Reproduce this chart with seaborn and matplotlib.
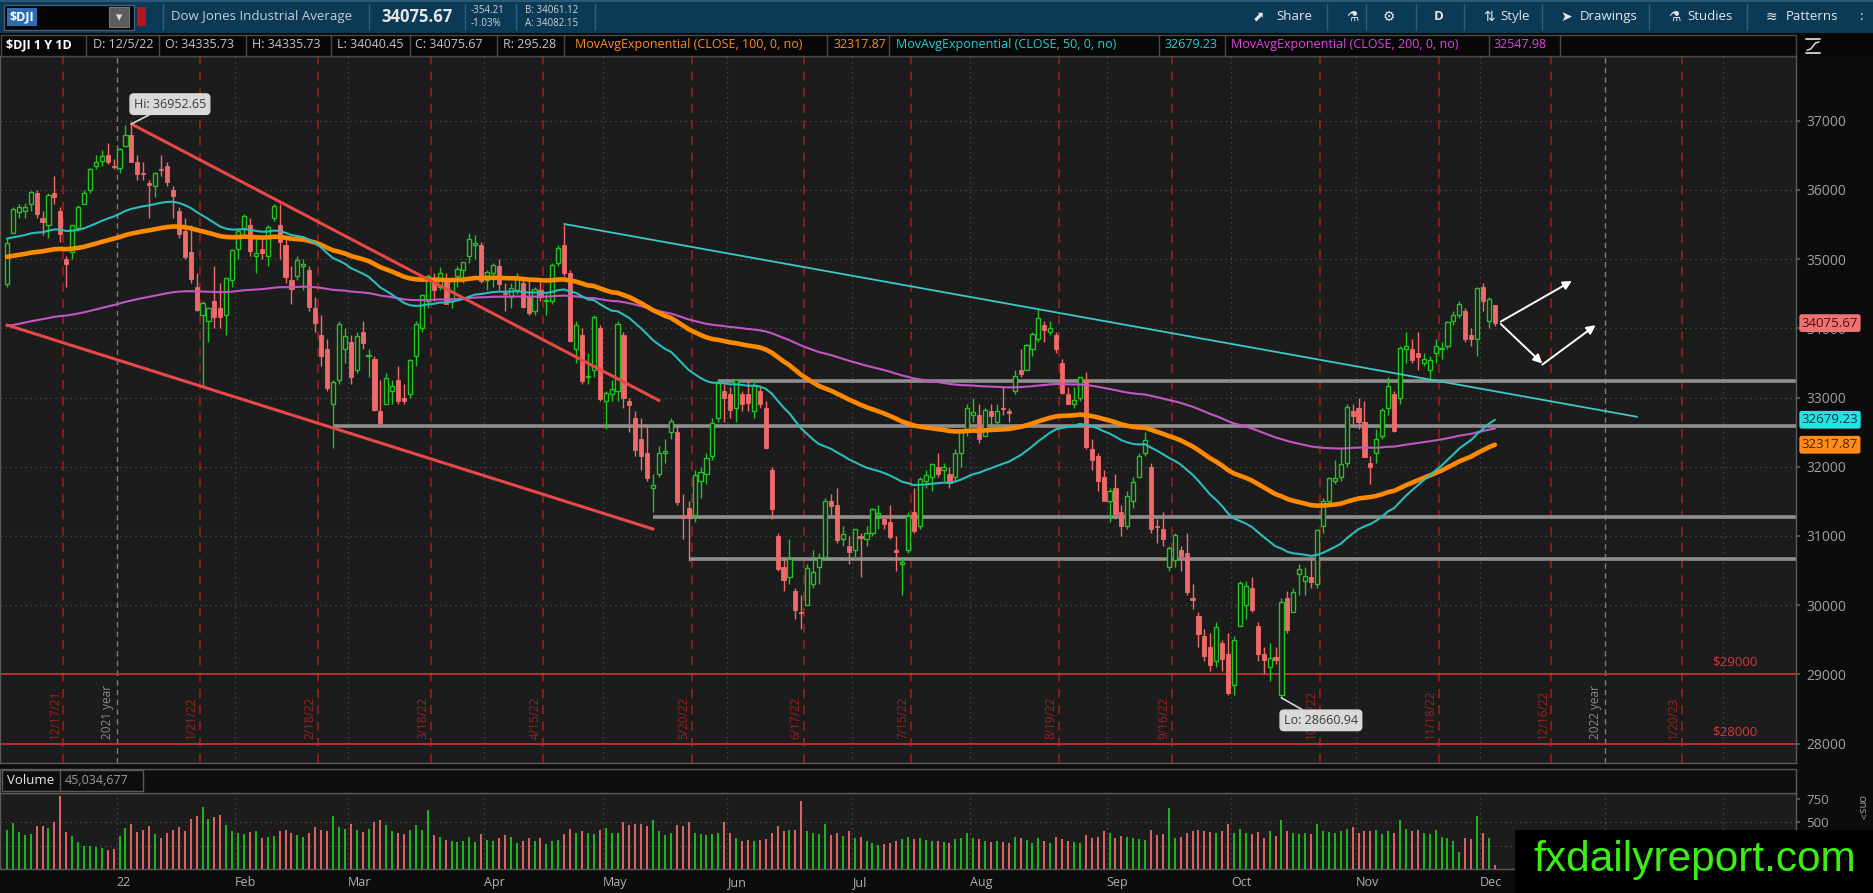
import numpy as np
import pandas as pd
import seaborn as sns
import matplotlib
matplotlib.use('Agg')
import matplotlib.pyplot as plt
from matplotlib.patches import Rectangle

# ---------------- data: $DJI daily, 12/6/21 .. 12/5/22 ----------------
opens = [
    34640, 35380, 35680, 35700, 35800, 35950, 35600, 35500, 35950, 35700, 35000, 35100, 35450, 35800, 36000, 36350, 36420, 36500, 36350,
    36320, 36640, 36800, 36400, 36250, 36100, 36050, 36300, 36350, 36000, 35700, 35400, 35100, 34600, 34200, 34100, 34400, 34300, 34200, 34700,
    35150, 35450, 35500, 35050, 35150, 35050, 35600, 35500, 35200, 34700, 34750, 34900, 34850, 34300, 33900, 33700, 32900, 33250, 33700,
    33800, 33400, 33950, 33600, 33550, 32800, 32900, 33100, 33250, 33000, 33050, 33600, 34000, 34400, 34700, 34600, 34700, 34400, 34750, 34850, 35050, 35200, 35200,
    34700, 34800, 34900, 34500, 34450, 34550, 34650, 34450, 34250, 34550, 34400, 34400, 34950, 35200, 34800, 33700, 33900, 33300, 33400, 34000,
    32950, 33050, 33100, 33900, 32950, 32700, 32400, 32200, 31700, 31900, 32200, 32500, 32500, 31300, 31400, 31300, 31800, 31900, 32150, 32700, 33100,
    33050, 32850, 33050, 33050, 32800, 33100, 32850, 31950, 31000, 30550, 30400, 30200, 29900, 30000, 30300, 30550, 30700, 31500, 31450, 30950, 30850,
    30800, 31000, 30950, 31050, 31300, 31250, 31200, 30800, 30600, 30800, 31350, 31150, 31800, 31850, 32000, 31950, 31900, 31850, 32200, 32550,
    32750, 32750, 32450, 32800, 32650, 32850, 32800, 33100, 33400, 33400, 33700, 33850, 34050, 33950, 33900, 33500, 33050, 32900, 33000, 33250, 32250, 32150, 31850,
    31500, 31700, 31350, 31150, 31500, 31850, 32200, 32000, 31150, 31100, 30550, 30650, 30800, 30750, 30100, 29850, 29550, 29400, 29200, 29450, 29300,
    28850, 29700, 30000, 30250, 29700, 29300, 29100, 29250, 28700, 30100, 29900, 30450, 30350, 30400, 30300, 31150, 31500, 31800, 31850, 32050, 32800,
    32850, 32650, 32050, 32200, 32450, 32850, 33050, 33000, 33700, 33700, 33650, 33500, 33400, 33650, 33700, 33750, 34100, 34200, 34250, 33900, 33850,
    34600, 34100, 34336,
]
highs = [
    35300, 35760, 35800, 35810, 35990, 36000, 35700, 35950, 36200, 35750, 35050, 35500, 35780, 36000, 36320, 36500, 36570, 36680, 36450,
    36600, 36935, 36953, 36500, 36400, 36150, 36260, 36500, 36400, 36050, 35750, 35600, 35500, 34800, 34400, 34300, 34900, 34650, 34730, 35150,
    35450, 35650, 35600, 35300, 35300, 35500, 35800, 35800, 35300, 34900, 35050, 35000, 34900, 34450, 34200, 33850, 33250, 34100, 34000,
    33900, 33950, 34100, 33700, 33600, 33250, 33350, 33250, 33450, 33200, 33550, 34100, 34500, 34780, 34800, 34880, 34800, 34720, 34900, 34960, 35372, 35350, 35250,
    34850, 34950, 35000, 34650, 34650, 34800, 34700, 34700, 34600, 34700, 34500, 34950, 35200, 35500, 34850, 34100, 34000, 33650, 34200, 34050,
    33100, 33250, 34100, 33950, 33000, 32800, 32700, 32600, 31900, 32300, 32400, 32700, 32600, 31600, 31500, 31950, 32000, 32200, 32700, 33250, 33200,
    33150, 33250, 33100, 33250, 33250, 33150, 32950, 32000, 31050, 30700, 30950, 30250, 30150, 30600, 30800, 30750, 31550, 31600, 31700, 31150, 31000,
    31100, 31050, 31150, 31400, 31450, 31300, 31450, 31000, 30700, 31350, 31700, 31850, 31950, 32050, 32200, 32050, 32000, 32250, 32550, 32900,
    33000, 32900, 32850, 32900, 32900, 33150, 32850, 33400, 33700, 33780, 33950, 34281, 34100, 34100, 33950, 33550, 33150, 33150, 33300, 33370, 32400, 32200, 31950,
    31700, 31900, 31450, 31650, 31850, 32200, 32500, 32050, 31250, 31350, 30850, 31050, 30850, 31050, 30300, 29900, 29650, 29600, 29750, 29500, 29600,
    29550, 30350, 30350, 30400, 29750, 29400, 29450, 29400, 30100, 30200, 30250, 30600, 30550, 30700, 31100, 31550, 31850, 32100, 32250, 32900, 32900,
    33000, 32950, 32150, 32550, 32850, 33300, 33100, 33750, 33950, 33850, 33950, 33650, 33600, 33850, 33800, 34100, 34250, 34400, 34300, 34000, 34600,
    34650, 34450, 34336,
]
lows = [
    34600, 35380, 35600, 35600, 35700, 35600, 35350, 35300, 35800, 35250, 34600, 35000, 35400, 35800, 35950, 36300, 36350, 36380, 36300,
    36250, 36640, 36400, 36150, 36150, 35600, 35900, 36200, 36050, 35600, 35300, 35000, 34650, 34250, 33150, 33800, 34000, 34000, 33900, 34600,
    35000, 35350, 35050, 34800, 35000, 34900, 35550, 35000, 34650, 34350, 34700, 34550, 34250, 33950, 33450, 33100, 32272, 33200, 33500,
    33200, 33350, 33700, 33300, 32800, 32600, 32900, 32900, 32900, 32900, 33000, 33450, 33950, 34300, 34400, 34550, 34350, 34300, 34600, 34650, 34950, 35000, 34650,
    34550, 34600, 34550, 34250, 34300, 34500, 34300, 34200, 34200, 34400, 34200, 34350, 34900, 34750, 33800, 33500, 33200, 33200, 33300, 32950,
    32550, 32950, 32950, 32850, 32500, 32150, 31950, 31800, 31350, 31850, 32050, 32400, 31450, 30950, 30635, 31200, 31550, 31750, 32100, 32650, 32650,
    32700, 32650, 32800, 32800, 32700, 32850, 32250, 31250, 30500, 30200, 30300, 29800, 29650, 30000, 30250, 30300, 30700, 31300, 30900, 30850, 30600,
    30650, 30400, 30850, 31000, 31100, 31100, 30950, 30500, 30143, 30750, 31050, 31100, 31700, 31650, 31850, 31800, 31700, 31800, 32000, 32450,
    32650, 32350, 32450, 32600, 32550, 32750, 32650, 33050, 33300, 33400, 33600, 33800, 33800, 33900, 33650, 33050, 32900, 32850, 32950, 32250, 31950, 31650, 31500,
    31200, 31250, 31000, 31100, 31400, 31850, 32150, 31050, 30900, 30850, 30500, 30550, 30500, 30150, 29950, 29400, 29200, 29050, 29100, 29050, 28700,
    28700, 29700, 29800, 29900, 29200, 29000, 28900, 29150, 28661, 29600, 29900, 30150, 30150, 30250, 30250, 31050, 31450, 31750, 31800, 32000, 32600,
    32550, 32150, 31750, 32050, 32400, 32750, 32500, 32900, 33500, 33500, 33400, 33450, 33250, 33500, 33550, 33700, 34050, 34150, 33800, 33750, 33600,
    34250, 34000, 34040,
]
closes = [
    35227, 35719, 35754, 35754, 35971, 35650, 35544, 35927, 35898, 35365, 34932, 35493, 35754, 35950, 36302, 36398, 36488, 36398, 36338,
    36585, 36800, 36408, 36236, 36231, 36068, 36252, 36290, 36113, 35912, 35368, 35029, 34715, 34265, 34364, 34297, 34168, 34160, 34725, 35131,
    35405, 35629, 35111, 35089, 35091, 35463, 35768, 35241, 34738, 34566, 34988, 34934, 34312, 34079, 33596, 33131, 33223, 34058, 33892,
    33294, 33891, 33794, 33614, 32817, 32632, 33286, 33174, 32944, 32945, 33544, 34063, 34481, 34755, 34552, 34807, 34358, 34707, 34861, 34955, 35294, 35228, 34678,
    34818, 34921, 34641, 34496, 34583, 34721, 34308, 34220, 34564, 34451, 34411, 34911, 35161, 34793, 33811, 34049, 33240, 33302, 34160, 32977,
    33062, 33129, 34061, 32998, 32899, 32246, 32160, 31834, 31730, 32197, 32223, 32655, 31490, 31253, 31262, 31880, 31929, 32120, 32637, 33213, 32990,
    32813, 33248, 32900, 32916, 33180, 32910, 32272, 31393, 30517, 30365, 30669, 29927, 29889, 30530, 30483, 30677, 31501, 31439, 30947, 31029, 30775,
    31097, 30968, 31038, 31385, 31338, 31174, 30982, 30773, 30631, 31289, 31073, 31827, 31875, 32037, 31900, 31990, 31762, 32198, 32530, 32845,
    32798, 32397, 32813, 32727, 32803, 32833, 32775, 33310, 33337, 33761, 33913, 34152, 33981, 33999, 33707, 33064, 32910, 32970, 33292, 32283, 32099, 31791, 31510,
    31656, 31318, 31145, 31581, 31775, 32152, 32381, 31105, 31135, 30962, 30822, 31020, 30706, 30184, 30077, 29590, 29261, 29135, 29684, 29226, 28726,
    29491, 30317, 30274, 29927, 29297, 29203, 29240, 29211, 30039, 29635, 30186, 30524, 30424, 30334, 31083, 31500, 31837, 31839, 32034, 32862, 32733,
    32653, 32148, 32001, 32403, 32827, 33161, 32514, 33716, 33748, 33537, 33593, 33554, 33547, 33746, 33700, 34098, 34195, 34347, 33850, 33853, 34590,
    34395, 34430, 34076,
]
volumes = [  # millions
    418, 489, 393, 364, 371, 453, 453, 436, 496, 775, 393, 357, 293, 250, 250, 240, 228, 204, 214,
    357, 436, 478, 393, 418, 453, 371, 329, 382, 418, 443, 400, 536, 560, 660, 536, 550, 571, 471, 400,
    380, 370, 390, 400, 330, 340, 350, 400, 420, 380, 360, 340, 380, 450, 420, 400, 560, 450, 430,
    480, 420, 390, 430, 500, 520, 470, 400, 380, 370, 420, 470, 420, 630, 360, 340, 310, 300, 290, 300, 340, 290, 370,
    310, 300, 330, 360, 340, 280, 300, 330, 300, 330, 270, 300, 310, 370, 430, 380, 400, 380, 370, 420,
    440, 380, 380, 500, 470, 480, 480, 460, 520, 400, 360, 380, 470, 460, 500, 380, 370, 360, 370, 380, 500,
    380, 330, 300, 310, 300, 310, 320, 380, 460, 400, 420, 420, 720, 400, 380, 370, 480, 360, 380, 350, 400,
    330, 340, 300, 280, 260, 270, 280, 300, 320, 340, 320, 330, 310, 300, 300, 290, 280, 320, 330, 380,
    330, 320, 300, 290, 300, 290, 280, 340, 330, 310, 280, 330, 300, 280, 340, 320, 300, 290, 280, 360, 330, 340, 400,
    380, 330, 350, 340, 330, 320, 310, 420, 360, 370, 650, 330, 340, 380, 400, 420, 410, 390, 380, 410, 480,
    380, 430, 380, 370, 390, 330, 400, 350, 520, 400, 380, 370, 380, 370, 480, 400, 390, 380, 400, 430, 450,
    380, 410, 400, 420, 370, 410, 380, 520, 430, 400, 420, 380, 370, 420, 340, 330, 300, 180, 330, 320, 560,
    380, 330, 45,
]
for _s in (opens, highs, lows, volumes):
    assert len(_s) == len(closes) == 252

holidays = ['2021-12-24', '2022-01-17', '2022-02-21', '2022-04-15', '2022-05-30', '2022-06-20',
            '2022-07-04', '2022-09-05', '2022-11-24', '2022-12-26', '2023-01-02', '2023-01-16', '2023-02-20']

# previous-day EMA values at the left edge of the chart
ema_seed = {50: 35300, 100: 35030, 200: 34020}

month_starts = ['2022-01-03', '2022-02-01', '2022-03-01', '2022-04-01', '2022-05-02', '2022-06-01', '2022-07-01',
                '2022-08-01', '2022-09-01', '2022-10-03', '2022-11-01', '2022-12-01', '2023-01-03', '2023-02-01']
# the last two month labels sit under the watermark in the reference
month_labels = ['22', 'Feb', 'Mar', 'Apr', 'May', 'Jun', 'Jul', 'Aug', 'Sep', 'Oct', 'Nov', 'Dec', '', '']
year_starts = ['2022-01-03', '2023-01-03']

opex_dates = ['2021-12-17', '2022-01-21', '2022-02-18', '2022-03-18', '2022-04-14', '2022-05-20', '2022-06-17',
              '2022-07-15', '2022-08-19', '2022-09-16', '2022-10-21', '2022-11-18', '2022-12-16', '2023-01-20']
opex_labels = ['12/17/21', '1/21/22', '2/18/22', '3/18/22', '4/15/22', '5/20/22', '6/17/22',
               '7/15/22', '8/19/22', '9/16/22', '10/21/22', '11/18/22', '12/16/22', '1/20/23']

# drawings on the chart: (start date, price) -> (end date, price)
red_channel = [(('2022-01-05', 36953), ('2022-05-13', 32958)),
               (('2021-12-06', 34049), ('2022-05-12', 31100))]
cyan_trend = (('2022-04-21', 35508), ('2023-01-10', 32722))
gray_levels = [('2022-02-24', 32590), ('2022-05-27', 33240), ('2022-05-12', 31275), ('2022-05-20', 30660)]
red_levels = [29000, 28000]
white_arrows = [(('2022-12-06', 34098), ('2022-12-22', 34685)),
                (('2022-12-06', 34063), ('2022-12-15', 33493)),
                (('2022-12-15', 33476), ('2022-12-29', 34046))]

# ---------------- setup ----------------
sns.set_theme(style='dark', rc={'axes.facecolor': '#1c1c1c', 'figure.facecolor': '#0c0c0c'})
plt.rcParams['font.family'] = ['Open Sans', 'DejaVu Sans']

W, H = 1568.0, 747.0   # layout measured on the reference in these units
def fx(x): return x / W
def fy(y): return 1 - y / H

days = pd.bdate_range('2021-12-06', '2023-03-10', freq='C', holidays=holidays)
def di(d): return int(days.get_loc(pd.Timestamp(d)))

o = np.array(opens, float); c = np.array(closes, float)
h = np.maximum(np.array(highs, float), np.maximum(o, c))
l = np.minimum(np.array(lows, float), np.minimum(o, c))
idx = np.arange(len(c))
up = c >= o

def ema(vals, span, seed):
    k = 2.0 / (span + 1)
    out, prev = [], seed
    for v in vals:
        prev = prev + k * (v - prev)
        out.append(prev)
    return np.array(out)

df = pd.DataFrame({'i': idx, 'ema50': ema(c, 50, ema_seed[50]), 'ema100': ema(c, 100, ema_seed[100]),
                   'ema200': ema(c, 200, ema_seed[200])})

fig = plt.figure(figsize=(18.74, 8.93), dpi=100)
fig.patch.set_facecolor('#0c0c0c')

ax = fig.add_axes([0, fy(638), fx(1503), (638 - 47) / H])
axv = fig.add_axes([0, fy(727), fx(1503), (727 - 663) / H])
x0, x1 = -1.17, 301.85
p_per_px = 1000 / 57.89
ax.set_xlim(x0, x1)
ax.set_ylim(37000 - (638 - 101) * p_per_px, 37000 + (101 - 47) * p_per_px)
axv.set_xlim(x0, x1)
axv.set_ylim(0, (727 - 663) * 750 / (727 - 668))
for a in (ax, axv):
    a.set_facecolor('#1c1c1c')
    a.grid(False)
    for s in a.spines.values():
        s.set_color('#5a5a5a'); s.set_linewidth(1)

# grid
for p in range(28000, 38000, 1000):
    ax.axhline(p, color='#4e4e4e', lw=0.9, ls=(0, (1, 3)), zorder=1)
for v in (250, 500):
    axv.axhline(v, color='#4e4e4e', lw=0.9, ls=(0, (1, 3)), zorder=1)
for d in month_starts:
    pos = di(d) - 0.5
    if d in year_starts:
        ax.axvline(pos, color='#7a7a7a', lw=1, ls=(0, (4, 3)), zorder=1)
    else:
        ax.axvline(pos, color='#4e4e4e', lw=0.9, ls=(0, (1, 3)), zorder=1)
    axv.axvline(pos, color='#4e4e4e', lw=0.9, ls=(0, (1, 3)), zorder=1)

y_lab = 37000 - (618 - 101) * p_per_px
for d, lab in zip(opex_dates, opex_labels):
    pos = di(d) + 0.5
    ax.axvline(pos, color='#8c1f1f', lw=1.3, ls=(0, (5, 4)), zorder=1)
    ax.text(pos - 0.3, y_lab, lab, rotation=90, ha='right', va='bottom', color='#9a2222', fontsize=8.5, zorder=2)
for d, lab in zip(year_starts, ('2021 year', '2022 year')):
    ax.text(di(d) - 0.9, y_lab, lab, rotation=90, ha='right', va='bottom',
            color='#8a8a8a', fontsize=8.5, zorder=2)

for p in red_levels:
    ax.axhline(p, color='#c8302f', lw=1.3, zorder=2)
    ax.text(x1 - 6.5, p + 80, '$%d' % p, color='#d03a3a', fontsize=9.5, ha='right', va='bottom', zorder=2)

for d, p in gray_levels:
    ax.plot([di(d), x1], [p, p], color='#8f8f8f', lw=2.6, solid_capstyle='butt', zorder=2)

# candles
green, red = '#22c422', '#f06a6a'
ax.vlines(idx[up], l[up], h[up], color=green, lw=1, zorder=3)
ax.vlines(idx[~up], l[~up], h[~up], color=red, lw=1, zorder=3)
bh = np.maximum(np.abs(c - o), 12)
ax.bar(idx[up], bh[up], bottom=np.minimum(o, c)[up], width=0.7, facecolor='#1c1c1c',
       edgecolor=green, linewidth=1, zorder=3.5)
ax.bar(idx[~up], bh[~up], bottom=np.minimum(o, c)[~up], width=0.7, facecolor=red,
       edgecolor=red, linewidth=0.6, zorder=3.5)

# moving averages
sns.lineplot(data=df, x='i', y='ema200', ax=ax, color='#c455c4', lw=1.5, zorder=4)
sns.lineplot(data=df, x='i', y='ema100', ax=ax, color='#ff8a00', lw=3.3, zorder=4)
sns.lineplot(data=df, x='i', y='ema50', ax=ax, color='#2bbcbc', lw=1.5, zorder=4)

# drawings
for (d0, p0), (d1, p1) in red_channel:
    ax.plot([di(d0), di(d1)], [p0, p1], color='#e84848', lw=2.2, zorder=5)
(d0, p0), (d1, p1) = cyan_trend
ax.plot([di(d0), di(d1)], [p0, p1], color='#3ec8c8', lw=1.3, zorder=5)
for (d0, p0), (d1, p1) in white_arrows:
    ax.annotate('', xy=(di(d1), p1), xytext=(di(d0), p0),
                arrowprops=dict(arrowstyle='-|>', color='white', lw=1.4, mutation_scale=13,
                                shrinkA=0, shrinkB=0), zorder=6)

box = dict(boxstyle='round,pad=0.3', fc='#d9d9d9', ec='#d9d9d9')
ax.annotate('Hi: 36952.65', xy=(di('2022-01-05'), 36953), xytext=(21.4, 37240), ha='left', va='center',
            fontsize=9, color='#3c3c3c', bbox=box, zorder=7,
            arrowprops=dict(arrowstyle='-', color='#d9d9d9', lw=1.2, shrinkA=0, shrinkB=0))
ax.annotate('Lo: 28660.94', xy=(di('2022-10-13'), 28661), xytext=(215.4, 28336), ha='left', va='center',
            fontsize=9, color='#3c3c3c', bbox=box, zorder=7,
            arrowprops=dict(arrowstyle='-', color='#d9d9d9', lw=1.2, shrinkA=0, shrinkB=0))

# price axis
ax.yaxis.tick_right()
ax.set_yticks(range(28000, 38000, 1000))
ax.tick_params(axis='y', colors='#5a5a5a', labelcolor='#a0a0a0', labelsize=10, length=3, pad=4, right=True)
ax.set_xticks([])
ax.set_xlabel(''); ax.set_ylabel('')
ytr = ax.get_yaxis_transform()
for val, txt, fc, tc in ((34075.67, '34075.67', '#f07373', '#4a0d0d'),
                         (32679.23, '32679.23', '#22e4e4', '#063535'),
                         (32317.87, '32317.87', '#ff8c1a', '#4a2200')):
    ax.text(1.003, val, txt, transform=ytr, ha='left', va='center', fontsize=9.5, color=tc,
            bbox=dict(boxstyle='round,pad=0.18', fc=fc, ec='none'), zorder=10, clip_on=False)

# volume
vcol = np.where(up, '#1fb81f', '#e06464')
axv.vlines(idx, 0, volumes, colors=vcol, lw=1.4, zorder=3)
axv.yaxis.tick_right()
axv.set_yticks([500, 750])
axv.tick_params(axis='y', colors='#5a5a5a', labelcolor='#a0a0a0', labelsize=9.5, length=3, pad=4, right=True)
axv.set_xticks([di(d) - 0.5 for d in month_starts])
axv.set_xticklabels(month_labels)
axv.tick_params(axis='x', labelcolor='#b0b0b0', labelsize=9, length=0, pad=5, bottom=True)
for t in axv.get_xticklabels():
    t.set_ha('left')
axv.set_xlabel(''); axv.set_ylabel('')

def frect(xa, ya, xb, yb, **kw):
    fig.add_artist(Rectangle((fx(xa), fy(yb)), fx(xb) - fx(xa), (yb - ya) / H, transform=fig.transFigure, **kw))

def fline(xs, ys, **kw):
    fig.add_artist(plt.Line2D([fx(v) for v in xs], [fy(v) for v in ys], **kw))

def ftext(x, y, s, **kw):
    kw.setdefault('va', 'center')
    fig.text(fx(x), fy(y), s, **kw)

# volume header strip
frect(0, 643, 1503, 663, fc='#0e0e0e', ec='#5a5a5a', lw=1, zorder=5)
frect(2, 644.5, 120, 662, fc='#0e0e0e', ec='#5a5a5a', lw=1, zorder=5)
fline([50, 50], [644.5, 662], color='#5a5a5a', lw=1, zorder=6)
ftext(6, 653, 'Volume', color='#e8e8e8', fontsize=9.5, zorder=7)
ftext(54, 653, '45,034,677', color='#9a9a9a', fontsize=9, zorder=7)

# top toolbar
frect(0, 0, W, 28, fc='#0b3a57', ec='none', zorder=5)
frect(0, 0, W, 1.5, fc='#2a5a78', ec='none', zorder=5)
frect(3, 4, 112, 25, fc='#050505', ec='#3f5f7f', lw=1, zorder=6)
frect(6, 7, 31, 22, fc='#2d6cb0', ec='none', zorder=7)
ftext(8, 14.5, '$DJI', color='white', fontsize=9, fontweight='bold', zorder=8)
frect(91, 6, 108, 23, fc='#5c5c5c', ec='#777777', lw=0.8, zorder=7)
ftext(99.5, 14.5, '▾', color='#dddddd', fontsize=9, ha='center', zorder=8)
frect(115, 6, 122, 22, fc='#b5161b', ec='none', zorder=6)
ftext(143, 14, 'Dow Jones Industrial Average', color='#c6ced6', fontsize=9.5, zorder=6)
ftext(319, 14, '34075.67', color='#e6e6e6', fontsize=12, fontweight='bold', zorder=6)
ftext(394, 9, '-354.21', color='#d0d0d0', fontsize=7, zorder=6)
ftext(394, 20, '-1.03%', color='#d0d0d0', fontsize=7, zorder=6)
ftext(439, 9, 'B: 34061.12', color='#d0d0d0', fontsize=7, zorder=6)
ftext(439, 20, 'A: 34082.15', color='#d0d0d0', fontsize=7, zorder=6)
for xs in (136, 309, 389, 432, 498, 1110, 1143, 1185, 1225, 1290, 1380, 1462):
    fline([xs, xs], [3, 25], color='#2c6080', lw=1, zorder=6)
tool = dict(color='#e0e6ea', fontsize=9.5, zorder=6)
icon = dict(color='#e0e6ea', fontsize=10, zorder=6, family=['DejaVu Sans'])
ftext(1048, 14, '⬈', **icon)
ftext(1068, 14, 'Share', **tool)
ftext(1126, 14, '⚗', **icon)
ftext(1157, 14, '⚙', **icon)
ftext(1200, 14, 'D', color='#e0e6ea', fontsize=9.5, fontweight='bold', zorder=6)
ftext(1241, 14, '⇅', **icon)
ftext(1255, 14, 'Style', **tool)
ftext(1306, 14, '➤', **icon)
ftext(1322, 14, 'Drawings', **tool)
ftext(1396, 14, '⚗', **icon)
ftext(1412, 14, 'Studies', **tool)
ftext(1477, 14, '≋', **icon)
ftext(1494, 14, 'Patterns', **tool)
ftext(1556, 14, ':', **tool)

# study info row
frect(0, 28, W, 47, fc='#070707', ec='none', zorder=5)
frect(1, 29, 1503, 46.5, fc='none', ec='#4a4a4a', lw=1, zorder=6)
for xs in (72, 133, 206, 277, 343, 416, 472, 692, 744, 970, 1025, 1246, 1305):
    fline([xs, xs], [29, 46.5], color='#4a4a4a', lw=1, zorder=6)
row = 37.5
ftext(5, row, '$DJI 1 Y 1D', color='white', fontsize=9, fontweight='bold', zorder=7)
info = [(78, 'D: 12/5/22'), (138, 'O: 34335.73'), (211, 'H: 34335.73'), (282, 'L: 34040.45'),
        (347, 'C: 34075.67'), (421, 'R: 295.28')]
for xs, s in info:
    ftext(xs, row, s, color='#c4c4c4', fontsize=9, zorder=7)
studies = [(481, 'MovAvgExponential (CLOSE, 100, 0, no)', '#ff8c1a'), (697, '32317.87', '#ff8c1a'),
           (750, 'MovAvgExponential (CLOSE, 50, 0, no)', '#25cfcf'), (974, '32679.23', '#25cfcf'),
           (1030, 'MovAvgExponential (CLOSE, 200, 0, no)', '#e046e0'), (1250, '32547.98', '#e046e0')]
for xs, s, col in studies:
    ftext(xs, row, s, color=col, fontsize=9, zorder=7)
# small study-panel icon at the top right
fline([1511, 1523], [32.5, 32.5], color='#d8d8d8', lw=1.3, zorder=7)
fline([1512, 1515, 1519, 1522], [42, 41, 36, 35], color='#d8d8d8', lw=1.1, zorder=7)
fline([1511, 1523], [44, 44], color='#d8d8d8', lw=1.3, zorder=7)

# right edge bits
ftext(1557, 676, 'ons>', color='#a0a0a0', fontsize=8, rotation=270, ha='center', zorder=6)

# watermark
frect(1268, 694.5, W, H, fc='black', ec='none', zorder=8)
fig.text(fx(1283), fy(729), 'fxdailyreport.com', color='#3bef14', fontsize=30.5, va='baseline',
         family=['Liberation Sans', 'DejaVu Sans'], zorder=9)

fig.savefig('out.png', dpi=100, facecolor=fig.get_facecolor())
